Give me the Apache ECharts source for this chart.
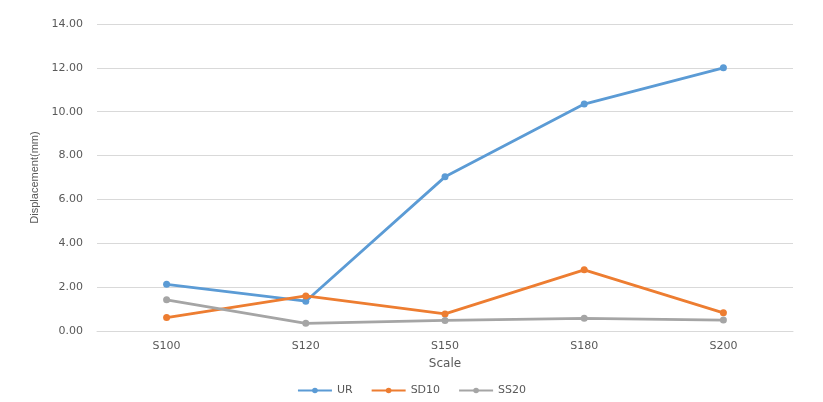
<!DOCTYPE html>
<html><head><meta charset="utf-8">
<script src="https://cdn.jsdelivr.net/npm/echarts@6/dist/echarts.min.js"></script>
<style>html,body{margin:0;padding:0;background:#fff}#c{width:823px;height:402px}</style>
</head><body><div id="c"></div>
<script>
const categories = ['S100','S120','S150','S180','S200'];
const seriesNames = ['UR','SD10','SS20'];
const urValues = [2.13, 1.36, 7.03, 10.35, 12.0];
const sd10Values = [0.61, 1.6, 0.78, 2.79, 0.83];
const ss20Values = [1.42, 0.35, 0.48, 0.58, 0.5];
const colors = ['#5B9BD5','#ED7D31','#A5A5A5'];

const chart = echarts.init(document.getElementById('c'));
const mk = (name, data, color) => ({
  name, type: 'line', data, color,
  symbol: 'circle', symbolSize: 7,
  lineStyle: {width: 2.8, color},
  itemStyle: {color}
});
chart.setOption({
  animation: false,
  textStyle: {fontFamily: 'DejaVu Sans'},
  grid: {left: 97, right: 30, top: 24, bottom: 71},
  legend: {
    bottom: 1, left: 'center', itemWidth: 34, itemHeight: 7, itemGap: 18,
    textStyle: {color: '#595959', fontSize: 11},
    data: seriesNames
  },
  xAxis: {
    type: 'category', data: categories,
    name: 'Scale', nameLocation: 'middle', nameGap: 27,
    nameTextStyle: {color: '#595959', fontSize: 12},
    axisLine: {lineStyle: {color: '#d9d9d9'}},
    axisTick: {show: false},
    axisLabel: {color: '#595959', fontSize: 11, margin: 10}
  },
  yAxis: {
    type: 'value', min: 0, max: 14, interval: 2,
    name: 'Displacement(mm)', nameLocation: 'middle', nameGap: 46,
    nameTextStyle: {color: '#595959', fontSize: 11, fontFamily: 'Liberation Sans'},
    axisLine: {show: false}, axisTick: {show: false},
    splitLine: {lineStyle: {color: '#d9d9d9'}},
    axisLabel: {color: '#595959', fontSize: 11, margin: 14, formatter: v => v.toFixed(2)}
  },
  series: [
    mk(seriesNames[0], urValues, colors[0]),
    mk(seriesNames[1], sd10Values, colors[1]),
    mk(seriesNames[2], ss20Values, colors[2])
  ]
});
</script></body></html>
